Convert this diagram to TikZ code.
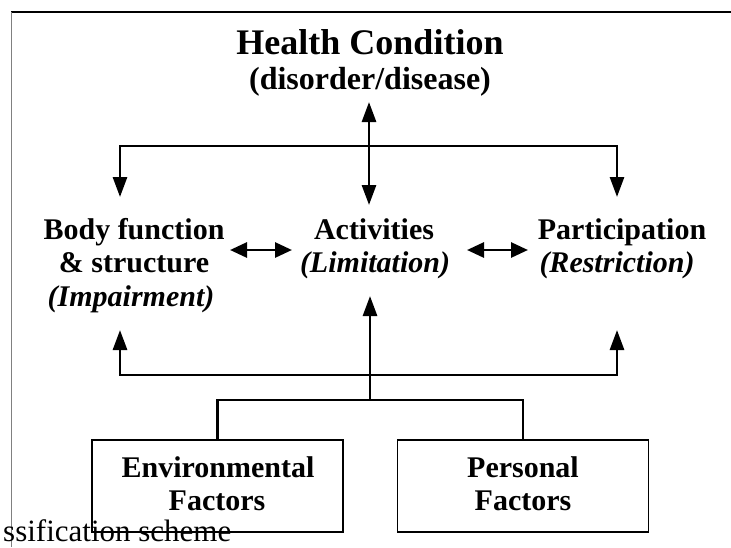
\documentclass[tikz,border=0pt]{standalone}
\usepackage{fontspec}
\setmainfont{Liberation Serif}
\usetikzlibrary{arrows.meta}
\begin{document}
\begin{tikzpicture}[x=1pt,y=-1pt,
  lbl/.style={font=\fontsize{30}{33}\selectfont\bfseries, inner sep=0pt, anchor=base},
  ilbl/.style={font=\fontsize{30}{33}\selectfont\bfseries\itshape, inner sep=0pt, anchor=base},
  conn/.style={line width=2.8pt, line join=miter},
  tip/.tip={Triangle[length=20pt,width=14pt]},
  htip/.tip={Triangle[length=17pt,width=15pt]},
  arr/.style={conn, -tip},
  darr/.style={conn, tip-tip},
  hdarr/.style={conn, htip-htip},
  box/.style={draw, line width=1.8pt, minimum width=251pt, minimum height=92pt, inner sep=0pt}]
\useasboundingbox (0,0) rectangle (731,547);

% frame
\draw[line width=1.5pt] (11,12) -- (731,12);
\draw[line width=1pt, gray] (11,12) -- (11,547);

% health condition
\node[lbl, font=\fontsize{36}{40}\selectfont\bfseries] (hc1) at (370,54) {Health Condition};
\node[lbl, font=\fontsize{32}{36}\selectfont\bfseries] (hc2) at (370,89) {(disorder/disease)};

% middle row
\node[lbl] (body1) at (134,239) {Body function};
\node[lbl] (body2) at (134,272) {\& structure};
\node[ilbl] (body3) at (131,306) {(Impairment)};
\node[lbl] (act1) at (374,239) {Activities};
\node[ilbl] (act2) at (375,272) {(Limitation)};
\node[lbl] (part1) at (622,239) {Participation};
\node[ilbl] (part2) at (617,272) {(Restriction)};

% boxes
\node[box] (env) at (217.5,486) {};
\node[box] (pers) at (523,486) {};
\node[lbl] (env1) at (218,477) {Environmental};
\node[lbl] (env2) at (217,510) {Factors};
\node[lbl] (pers1) at (523,477) {Personal};
\node[lbl] (pers2) at (523,510) {Factors};

% connector points
\coordinate (hcb) at (369,102);
\coordinate (actt) at (369,205);
\coordinate (topj) at (369,146);
\coordinate (bodyt) at (120,197);
\coordinate (partt) at (617,197);
\coordinate (bodyb) at (120,330);
\coordinate (partb) at (617,330);
\coordinate (botj) at (370,375);
\coordinate (actb) at (370,296);
\coordinate (factj) at (370,400);
\coordinate (ba1) at (230,250);
\coordinate (ba2) at (292,250);
\coordinate (pa1) at (467,250);
\coordinate (pa2) at (528,250);

\draw[darr] (hcb) -- (actt);
\draw[darr] (bodyt) |- (topj) -| (partt);
\draw[darr] (bodyb) |- (botj) -| (partb);
\draw[arr] (factj) -- (actb);
\draw[conn] (env.north) |- (factj) -| (pers.north);
\draw[hdarr] (ba1) -- (ba2);
\draw[hdarr] (pa1) -- (pa2);

% caption (cut off at the left edge)
\node[font=\fontsize{31}{34}\selectfont, inner sep=0pt, anchor=base west] (cap) at (3,541) {ssification scheme};
\end{tikzpicture}
\end{document}
